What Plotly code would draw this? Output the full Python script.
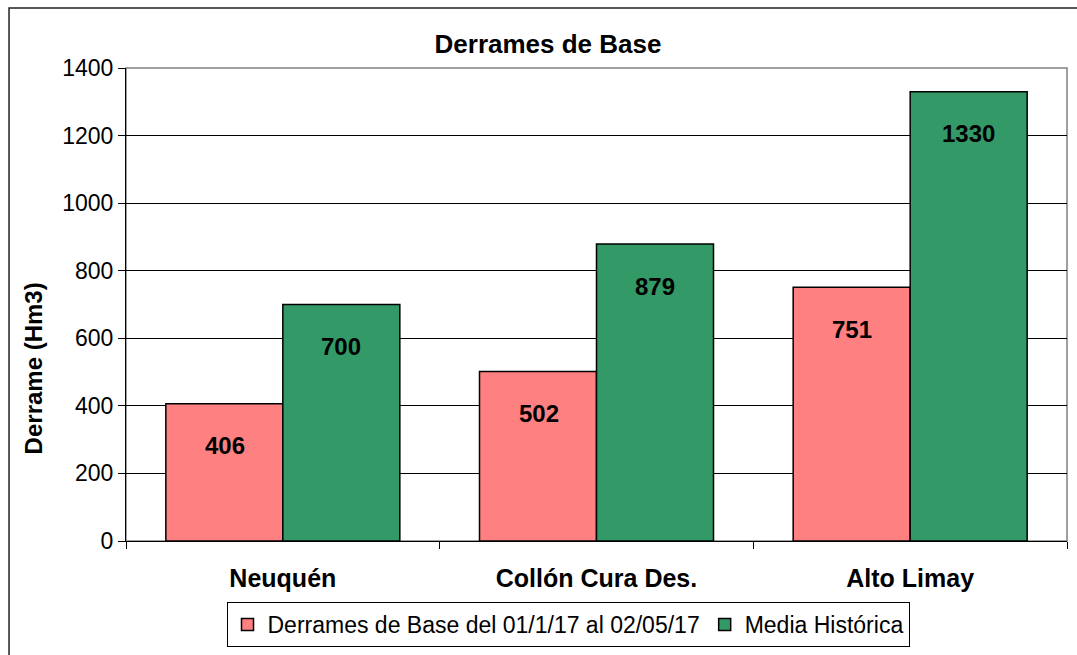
import plotly.graph_objects as go

# datos
categorias = ["Neuquén", "Collón Cura Des.", "Alto Limay"]
derrames_base = [406, 502, 751]
media_historica = [700, 879, 1330]
serie_1 = "Derrames de Base del 01/1/17 al 02/05/17"
serie_2 = "Media Histórica"
y_ticks = [0, 200, 400, 600, 800, 1000, 1200, 1400]

FONT = "Liberation Sans, Arial, sans-serif"

fig = go.Figure()
fig.add_trace(go.Bar(x=categorias, y=derrames_base, name=serie_1,
                     marker=dict(color="#FF8080", line=dict(color="black", width=1.5))))
fig.add_trace(go.Bar(x=categorias, y=media_historica, name=serie_2,
                     marker=dict(color="#339966", line=dict(color="black", width=1.5))))

# etiquetas de valor dentro de las barras
for serie, shift in ((derrames_base, -58), (media_historica, 58)):
    for cat, val in zip(categorias, serie):
        fig.add_annotation(x=cat, y=val, text="<b>%d</b>" % val, showarrow=False,
                           xshift=shift, yshift=-42, font=dict(size=24, color="black"))

# titulo del eje y
fig.add_annotation(xref="paper", yref="paper", x=-0.0988, y=0.365, text="<b>Derrame (Hm3)</b>",
                   textangle=-90, showarrow=False, xanchor="center", yanchor="middle",
                   font=dict(size=24))

# borde del area de grafico y borde exterior
fig.add_shape(type="rect", xref="paper", yref="paper", x0=0, x1=1, y0=0, y1=1,
              line=dict(color="#808080", width=1.5), layer="below")
fig.add_shape(type="rect", xref="paper", yref="paper", x0=-0.1243, x1=1.05, y0=-0.3, y1=1.1268,
              line=dict(color="#222", width=1.5))

fig.update_layout(
    width=1077, height=655,
    margin=dict(l=126, r=10, t=68, b=114, autoexpand=False),
    paper_bgcolor="white", plot_bgcolor="white",
    font=dict(family=FONT, size=23, color="black"),
    title=dict(text="<b>Derrames de Base</b>", x=548 / 1077, xanchor="center",
               y=1 - 44 / 655, yanchor="middle", font=dict(size=26)),
    bargap=0.254, bargroupgap=0,
    showlegend=True,
    legend=dict(orientation="h", xref="container", yref="container",
                x=568 / 1077, xanchor="center", y=1 - 602 / 655, yanchor="top",
                bordercolor="black", borderwidth=1, font=dict(size=23),
                itemwidth=30, tracegroupgap=0),
)
fig.update_xaxes(showline=True, linecolor="black", linewidth=1,
                 ticks="outside", tickson="boundaries", ticklen=7, tickcolor="black",
                 ticklabelstandoff=15,
                 tickfont=dict(size=25), tickprefix="<b>", ticksuffix="</b>")
fig.update_yaxes(range=[0, 1400], tickvals=y_ticks, showline=True, linecolor="black",
                 linewidth=1, ticks="outside", ticklen=7, tickcolor="black",
                 showgrid=True, gridcolor="black", gridwidth=1, zeroline=False,
                 tickfont=dict(size=23))

fig.write_html("out.html", config={"displayModeBar": False},
               post_script="document.body.style.margin='0';")
